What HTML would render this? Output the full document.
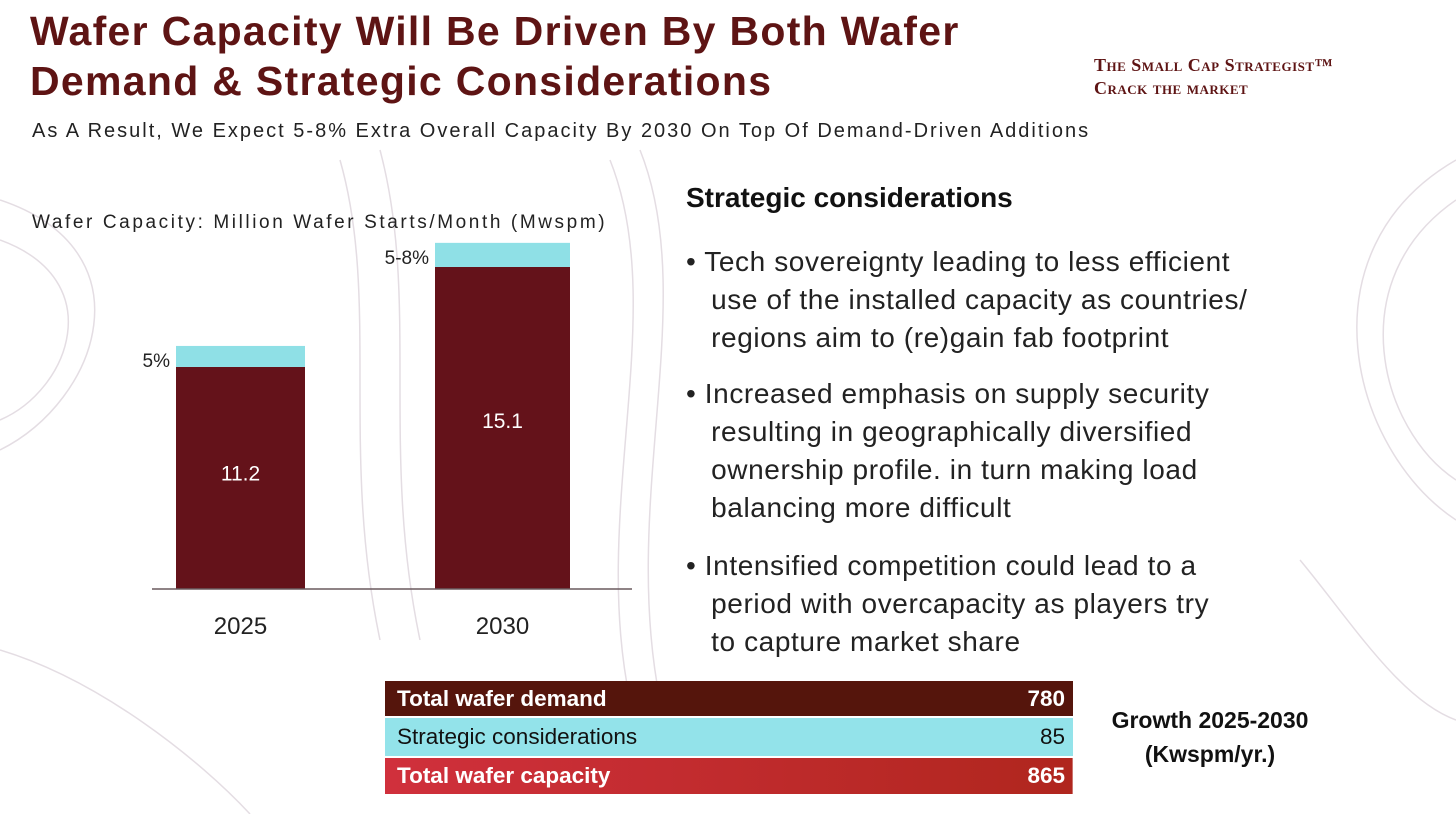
<!DOCTYPE html>
<html><head><meta charset="utf-8"><style>
body{margin:0;width:1456px;height:814px;overflow:hidden;background:#fff;font-family:"Liberation Sans",sans-serif;position:relative}
.abs{position:absolute}
h1{position:absolute;left:30px;top:6px;margin:0;font-size:41px;line-height:50px;font-weight:bold;color:#5e1414;letter-spacing:1.3px}
.sub{left:32px;top:120px;font-size:20px;color:#222;letter-spacing:2px}
.logo{left:1094px;top:54px;font-family:"Liberation Serif",serif;font-weight:bold;color:#5e1414;font-size:18px;line-height:23px;font-variant:small-caps;letter-spacing:0.5px}
.bul{left:686px;font-size:28px;line-height:38px;color:#222;letter-spacing:0.6px}
table{position:absolute;left:385px;top:681px;width:688px;border-collapse:collapse;font-size:22.5px}
td{padding:0 8px 0 12px}
</style></head><body>
<svg class="abs" style="left:0;top:0" width="1456" height="814">
<g fill="none" stroke="#e4dde3" stroke-width="1.5">
<path d="M0,200 C150,250 100,400 0,450"/><path d="M0,240 C110,280 70,390 0,420"/>
<path d="M640,150 C700,300 620,500 660,700"/><path d="M610,160 C670,310 590,510 630,700"/>
<path d="M1456,160 C1300,250 1350,450 1456,520"/><path d="M1456,200 C1340,280 1380,430 1456,480"/>
<path d="M1300,560 C1350,620 1400,700 1456,720"/><path d="M0,650 C100,680 200,760 250,814"/>
<path d="M380,150 C420,300 380,450 420,640"/><path d="M340,160 C380,300 340,450 380,640"/>
</g></svg>
<h1>Wafer Capacity Will Be Driven By Both Wafer<br>Demand &amp; Strategic Considerations</h1>
<div class="abs logo">The Small Cap Strategist™<br>Crack the market</div>
<div class="abs sub">As A Result, We Expect 5-8% Extra Overall Capacity By 2030 On Top Of Demand-Driven Additions</div>
<div class="abs" style="left:32px;top:212px;font-size:19px;color:#222;letter-spacing:2.6px">Wafer Capacity: Million Wafer Starts/Month (Mwspm)</div>
<svg id="chart" class="abs" style="left:0;top:0" width="700" height="660"></svg>
<div class="abs" style="left:686px;top:182px;font-size:28px;font-weight:bold;color:#111">Strategic considerations</div>
<div class="abs bul" style="top:243px">• Tech sovereignty leading to less efficient<br>&nbsp;&nbsp;&nbsp;use of the installed capacity as countries/<br>&nbsp;&nbsp;&nbsp;regions aim to (re)gain fab footprint</div>
<div class="abs bul" style="top:375px">• Increased emphasis on supply security<br>&nbsp;&nbsp;&nbsp;resulting in geographically diversified<br>&nbsp;&nbsp;&nbsp;ownership profile. in turn making load<br>&nbsp;&nbsp;&nbsp;balancing more difficult</div>
<div class="abs bul" style="top:547px">• Intensified competition could lead to a<br>&nbsp;&nbsp;&nbsp;period with overcapacity as players try<br>&nbsp;&nbsp;&nbsp;to capture market share</div>
<table>
<tr style="height:36px;background:#55150c;color:#fff;font-weight:bold"><td>Total wafer demand</td><td style="text-align:right">780</td></tr>
<tr style="height:40px;background:#93e3ea;color:#111;border-top:2px solid #fff;border-bottom:2px solid #fff"><td>Strategic considerations</td><td style="text-align:right">85</td></tr>
<tr style="height:37px;background:linear-gradient(90deg,#d0303c,#b0261e);color:#fff;font-weight:bold"><td>Total wafer capacity</td><td style="text-align:right">865</td></tr>
</table>
<div class="abs" style="left:1095px;top:703px;width:230px;text-align:center;font-size:23px;font-weight:bold;line-height:34px;color:#111">Growth 2025-2030<br>(Kwspm/yr.)</div>
<script>
const categories=["2025","2030"];
const demandValues=[11.2,15.1];
const strategicValues=[0.82,0.94];
const pctLabels=["5%","5-8%"];
const svg=document.getElementById('chart');
const NS="http://www.w3.org/2000/svg";
const base=589, yMin=2.54, ppu=25.64;
function y(v){return base-(v-yMin)*ppu;}
function h(v){return v*ppu;}
const xs=[176,435], w=[129,135];
function mk(t,a){const e=document.createElementNS(NS,t);for(const k in a)e.setAttribute(k,a[k]);svg.appendChild(e);return e;}
categories.forEach((c,i)=>{
 const d=mk('rect',{x:xs[i],y:y(demandValues[i]),width:w[i],height:base-y(demandValues[i]),fill:'#64121a'});
 
 
 const s=mk('rect',{x:xs[i],y:y(demandValues[i])-h(strategicValues[i]),width:w[i],height:h(strategicValues[i]),fill:'#8fe0e6'});
 
 
 const cx=xs[i]+w[i]/2;
 const v=mk('text',{x:cx,y:y(demandValues[i])+(base-y(demandValues[i]))*0.475+8,'text-anchor':'middle',fill:'#fff','font-size':21,'font-family':'Liberation Sans'});
 v.textContent=demandValues[i];
 
 
 const p=mk('text',{x:xs[i]-6,y:y(demandValues[i])-h(strategicValues[i])+21,'text-anchor':'end',fill:'#222','font-size':19,'font-family':'Liberation Sans'});
 p.textContent=pctLabels[i];
 
 
 const t=mk('text',{x:cx,y:634,'text-anchor':'middle',fill:'#222','font-size':24,'font-family':'Liberation Sans'});
 t.textContent=c;
 
 
});
const ax=mk('line',{x1:152,x2:632,y1:base,y2:base,stroke:'#6a5a5e','stroke-width':1.5});


</script>
</body></html>
